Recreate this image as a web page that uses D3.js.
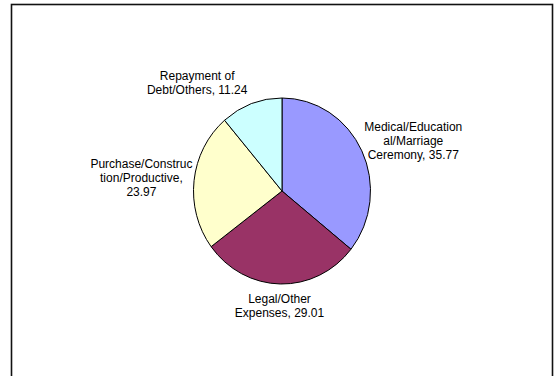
<!DOCTYPE html>
<html>
<head>
<meta charset="utf-8">
<script src="https://cdn.jsdelivr.net/npm/d3@7"></script>
<style>
  html, body { margin: 0; padding: 0; background: #fff; }
  svg { display: block; }
  text { font-family: "Liberation Sans", Arial, sans-serif; }
</style>
</head>
<body>
<svg id="chart" width="560" height="376"></svg>
<script>
// Share of expenditure by purpose (%)
const categories = [
  "Medical/Educational/Marriage Ceremony",
  "Legal/Other Expenses",
  "Purchase/Construction/Productive",
  "Repayment of Debt/Others"
];
const values = [35.77, 29.01, 23.97, 11.24];
// Wrapped label lines; {v} is replaced by the slice value
const labelLines = [
  ["Medical/Education", "al/Marriage", "Ceremony, {v}"],
  ["Legal/Other", "Expenses, {v}"],
  ["Purchase/Construc", "tion/Productive,", "{v}"],
  ["Repayment of", "Debt/Others, {v}"]
];
const colors = ["#9999FF", "#993366", "#FFFFCC", "#CCFFFF"];

// Layout
const W = 560, H = 376;
const cx = 282, cy = 191;
const ry = 93, rx = 88.5;          // pie is drawn slightly narrower than tall
const fontSize = 12, lineH = 14, gap = 8;
// hand nudges for labels that sit away from their default spot
const labelNudge = [[0, 2], [0, 0], [6, 0], [-34, 0]];

const svg = d3.select("#chart");

// outer frame (bottom edge runs off the page)
svg.append("rect")
  .attr("x", 11.5).attr("y", 4.5)
  .attr("width", 541).attr("height", 420)
  .attr("fill", "#fff")
  .attr("stroke", "#111")
  .attr("stroke-width", 1.6);

const pie = d3.pie().sort(null).value(d => d);
const arcs = pie(values);
const arc = d3.arc().innerRadius(0).outerRadius(ry);

const g = svg.append("g")
  .attr("transform", `translate(${cx},${cy}) scale(${rx / ry},1)`);

g.selectAll("path")
  .data(arcs)
  .join("path")
  .attr("d", arc)
  .attr("fill", (d, i) => colors[i])
  .attr("stroke", "#000")
  .attr("stroke-width", 1)
  .attr("vector-effect", "non-scaling-stroke")
  .attr("stroke-linejoin", "round");

// Labels: placed outside the ellipse along each slice's mid-angle
const labels = svg.append("g");
arcs.forEach((d, i) => {
  const lines = labelLines[i].map(s => s.replace("{v}", values[i].toFixed(2)));
  const t = labels.append("text")
    .attr("font-size", fontSize)
    .attr("fill", "#000")
    .attr("text-anchor", "middle");
  lines.forEach((s, k) => {
    t.append("tspan").attr("x", 0).attr("y", k * lineH).text(s);
  });
  const bb = t.node().getBBox();
  const w = bb.width, h = lines.length * lineH;
  const a = (d.startAngle + d.endAngle) / 2;
  const sx = Math.sin(a), sy = -Math.cos(a);
  const bx = cx + sx * (rx + gap + w / 2) + labelNudge[i][0];
  const by = cy + sy * (ry + gap + h / 2) + labelNudge[i][1];
  // centre the text block on (bx, by)
  const firstBase = by - h / 2 + lineH * 0.5 + fontSize * 0.36;
  t.attr("transform", `translate(${bx},${firstBase})`);
});
</script>
</body>
</html>
